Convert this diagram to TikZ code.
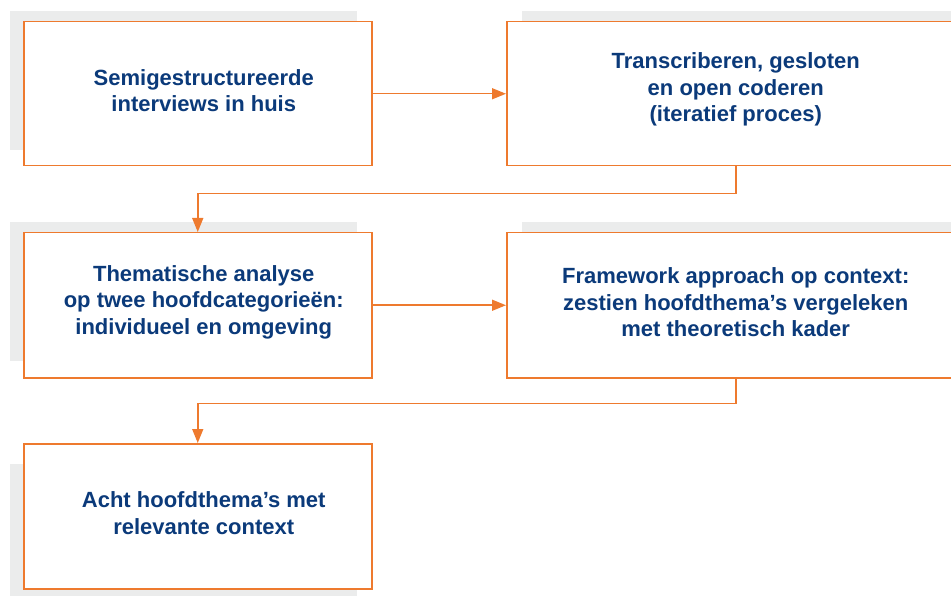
\documentclass[tikz,border=0pt]{standalone}
\usepackage{fontspec}
\setmainfont{Liberation Sans}
\usetikzlibrary{arrows.meta}
\definecolor{navy}{HTML}{0B3A7A}
\definecolor{orng}{HTML}{EE7A2E}
\definecolor{shade}{HTML}{EBECEC}
\begin{document}
\begin{tikzpicture}[x=1pt,y=-1pt,
  boxst/.style={draw=orng,line width=1.5pt,fill=white,anchor=north west,inner sep=0pt},
  txt/.style={text=navy,font=\bfseries\fontsize{22}{26.5}\selectfont,align=center,inner sep=0pt},
  link/.style={draw=orng,line width=1.5pt,-{Triangle[length=14pt,width=11pt]}},
  shadest/.style={fill=shade}]
\useasboundingbox (0,0) rectangle (951,596);
\clip (0,0) rectangle (951,596);
% grey backgrounds
\fill[shadest] (10,11) rectangle (357,150);
\fill[shadest] (522,11) rectangle (970,150);
\fill[shadest] (10,222) rectangle (357,361);
\fill[shadest] (522,222) rectangle (970,361);
\fill[shadest] (10,464) rectangle (357,596);
% boxes
\node[boxst,minimum width=348pt,minimum height=144pt] (b1) at (23,21) {};
\node[boxst,minimum width=458pt,minimum height=144pt] (b2) at (506,21) {};
\node[boxst,minimum width=348pt,minimum height=145pt] (b3) at (23,232) {};
\node[boxst,minimum width=458pt,minimum height=145pt] (b4) at (506,232) {};
\node[boxst,minimum width=348pt,minimum height=145pt] (b5) at (23,443) {};
% texts
\node[txt,xshift=6pt,yshift=3pt] (t1) at (b1.center) {Semigestructureerde\\interviews in huis};
\node[txt,yshift=4pt] (t2) at (b2.center) {Transcriberen, gesloten\\en open coderen\\(iteratief proces)};
\node[txt,xshift=6pt,yshift=3pt] (t3) at (b3.center) {Thematische analyse\\op twee hoofdcategorieën:\\individueel en omgeving};
\node[txt,yshift=3pt] (t4) at (b4.center) {Framework approach op context:\\zestien hoofdthema’s vergeleken\\met theoretisch kader};
\node[txt,xshift=6pt,yshift=3pt] (t5) at (b5.center) {Acht hoofdthema’s met\\relevante context};
% connectors
\draw[link] (b1.east) -- (b2.west);
\draw[link] (b2.south) -- ++(0,27) -| (b3.north);
\draw[link] (b3.east) -- (b4.west);
\draw[link] (b4.south) -- ++(0,25) -| (b5.north);
\end{tikzpicture}
\end{document}
